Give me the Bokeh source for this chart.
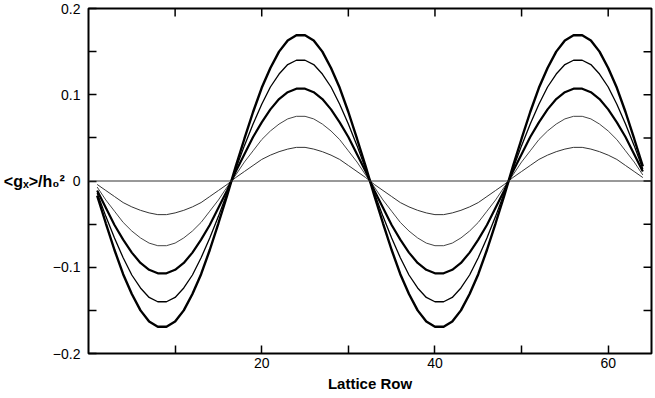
from bokeh.plotting import figure
from bokeh.models import FixedTicker, Span, Label, Range1d
from bokeh.embed import file_html
from bokeh.resources import INLINE

rows = list(range(1, 65))

g_170 = [-0.017, -0.049, -0.080, -0.108, -0.131, -0.150, -0.163, -0.169, -0.169, -0.163, -0.150, -0.131, -0.108, -0.080, -0.049, -0.017,
         0.017, 0.049, 0.080, 0.108, 0.131, 0.150, 0.163, 0.169, 0.169, 0.163, 0.150, 0.131, 0.108, 0.080, 0.049, 0.017,
         -0.017, -0.049, -0.080, -0.108, -0.131, -0.150, -0.163, -0.169, -0.169, -0.163, -0.150, -0.131, -0.108, -0.080, -0.049, -0.017,
         0.017, 0.049, 0.080, 0.108, 0.131, 0.150, 0.163, 0.169, 0.169, 0.163, 0.150, 0.131, 0.108, 0.080, 0.049, 0.017]
g_141 = [-0.014, -0.041, -0.066, -0.089, -0.109, -0.124, -0.135, -0.140, -0.140, -0.135, -0.124, -0.109, -0.089, -0.066, -0.041, -0.014,
         0.014, 0.041, 0.066, 0.089, 0.109, 0.124, 0.135, 0.140, 0.140, 0.135, 0.124, 0.109, 0.089, 0.066, 0.041, 0.014,
         -0.014, -0.041, -0.066, -0.089, -0.109, -0.124, -0.135, -0.140, -0.140, -0.135, -0.124, -0.109, -0.089, -0.066, -0.041, -0.014,
         0.014, 0.041, 0.066, 0.089, 0.109, 0.124, 0.135, 0.140, 0.140, 0.135, 0.124, 0.109, 0.089, 0.066, 0.041, 0.014]
g_108 = [-0.011, -0.031, -0.051, -0.068, -0.083, -0.095, -0.103, -0.107, -0.107, -0.103, -0.095, -0.083, -0.068, -0.051, -0.031, -0.011,
         0.011, 0.031, 0.051, 0.068, 0.083, 0.095, 0.103, 0.107, 0.107, 0.103, 0.095, 0.083, 0.068, 0.051, 0.031, 0.011,
         -0.011, -0.031, -0.051, -0.068, -0.083, -0.095, -0.103, -0.107, -0.107, -0.103, -0.095, -0.083, -0.068, -0.051, -0.031, -0.011,
         0.011, 0.031, 0.051, 0.068, 0.083, 0.095, 0.103, 0.107, 0.107, 0.103, 0.095, 0.083, 0.068, 0.051, 0.031, 0.011]
g_075 = [-0.007, -0.022, -0.035, -0.048, -0.058, -0.066, -0.072, -0.075, -0.075, -0.072, -0.066, -0.058, -0.048, -0.035, -0.022, -0.007,
         0.007, 0.022, 0.035, 0.048, 0.058, 0.066, 0.072, 0.075, 0.075, 0.072, 0.066, 0.058, 0.048, 0.035, 0.022, 0.007,
         -0.007, -0.022, -0.035, -0.048, -0.058, -0.066, -0.072, -0.075, -0.075, -0.072, -0.066, -0.058, -0.048, -0.035, -0.022, -0.007,
         0.007, 0.022, 0.035, 0.048, 0.058, 0.066, 0.072, 0.075, 0.075, 0.072, 0.066, 0.058, 0.048, 0.035, 0.022, 0.007]
g_039 = [-0.004, -0.011, -0.018, -0.025, -0.030, -0.034, -0.037, -0.039, -0.039, -0.037, -0.034, -0.030, -0.025, -0.018, -0.011, -0.004,
         0.004, 0.011, 0.018, 0.025, 0.030, 0.034, 0.037, 0.039, 0.039, 0.037, 0.034, 0.030, 0.025, 0.018, 0.011, 0.004,
         -0.004, -0.011, -0.018, -0.025, -0.030, -0.034, -0.037, -0.039, -0.039, -0.037, -0.034, -0.030, -0.025, -0.018, -0.011, -0.004,
         0.004, 0.011, 0.018, 0.025, 0.030, 0.034, 0.037, 0.039, 0.039, 0.037, 0.034, 0.030, 0.025, 0.018, 0.011, 0.004]

x_major = [20, 40, 60]
x_minor = [10, 30, 50]
y_major = [-0.2, -0.1, 0, 0.1, 0.2]
y_minor = [-0.15, -0.05, 0.05, 0.15]
y_labels = {-0.2: "\u22120.2", -0.1: "\u22120.1", 0: "0", 0.1: "0.1", 0.2: "0.2"}
x_title = "Lattice Row"
y_title = "<g\u2093>/h\u2080\u00b2"

FONT = "Liberation Sans"
X0, X1, Y0, Y1 = 0, 65, -0.2, 0.2
W, H = 653, 396
BL, BR, BT, BB = 86, 2, 8, 43
TICK = 8  # px

p = figure(width=W, height=H, output_backend="svg", toolbar_location=None,
           x_range=Range1d(X0, X1), y_range=Range1d(Y0, Y1),
           min_border_left=BL, min_border_right=BR, min_border_top=BT, min_border_bottom=BB)
p.grid.visible = False
p.outline_line_color = "black"
p.outline_line_width = 2
p.background_fill_color = "white"
p.border_fill_color = "white"

p.add_layout(Span(location=0, dimension="width", line_color="#333333", line_width=1))

styles = [(g_039, 1.0, "#333333"), (g_075, 1.0, "#444444"), (g_108, 2.2, "black"),
          (g_141, 1.3, "black"), (g_170, 2.4, "black")]
for ys, lw, col in styles:
    p.line(rows, ys, line_width=lw, line_color=col)

# mirrored inward ticks on the top and right edges
dx = TICK * (X1 - X0) / (W - BL - BR)
dy = TICK * (Y1 - Y0) / (H - BT - BB)
xt_all = x_major + x_minor
yt_all = y_major[1:-1] + y_minor
p.segment(x0=xt_all, x1=xt_all, y0=[Y1] * len(xt_all), y1=[Y1 - dy] * len(xt_all),
          line_color="black", line_width=1.5)
p.segment(x0=[X1] * len(yt_all), x1=[X1 - dx] * len(yt_all), y0=yt_all, y1=yt_all,
          line_color="black", line_width=1.5)

xt = FixedTicker(ticks=x_major, minor_ticks=x_minor)
yt = FixedTicker(ticks=y_major, minor_ticks=y_minor)

def style(ax):
    ax.axis_line_color = None
    ax.major_tick_in = TICK
    ax.major_tick_out = 0
    ax.minor_tick_in = TICK
    ax.minor_tick_out = 0
    ax.major_tick_line_color = "black"
    ax.minor_tick_line_color = "black"
    ax.major_tick_line_width = 1.5
    ax.minor_tick_line_width = 1.5
    ax.major_label_text_font = FONT
    ax.major_label_text_font_size = "14px"
    ax.major_label_text_color = "black"

xa = p.xaxis[0]
style(xa)
xa.ticker = xt
xa.major_label_standoff = 4
xa.axis_label = x_title
xa.axis_label_text_font = FONT
xa.axis_label_text_font_size = "15px"
xa.axis_label_text_font_style = "bold"
xa.axis_label_text_color = "black"
xa.axis_label_standoff = 4

ya = p.yaxis[0]
style(ya)
ya.ticker = yt
ya.major_label_overrides = y_labels
ya.major_label_standoff = 8

use_axis_label = True
try:
    ya.axis_label_orientation = "horizontal"
except Exception:
    use_axis_label = False

if use_axis_label:
    ya.axis_label = y_title
    ya.axis_label_text_font = FONT
    ya.axis_label_text_font_size = "16px"
    ya.axis_label_text_font_style = "bold"
    ya.axis_label_text_color = "black"
    ya.axis_label_standoff = -15
else:
    p.add_layout(Label(x=12, y=H - 180, x_units="screen", y_units="screen", text=y_title,
                       text_font=FONT, text_font_size="16px", text_font_style="bold",
                       text_baseline="middle", text_color="black"))

open("out.html", "w").write(file_html(p, INLINE))
